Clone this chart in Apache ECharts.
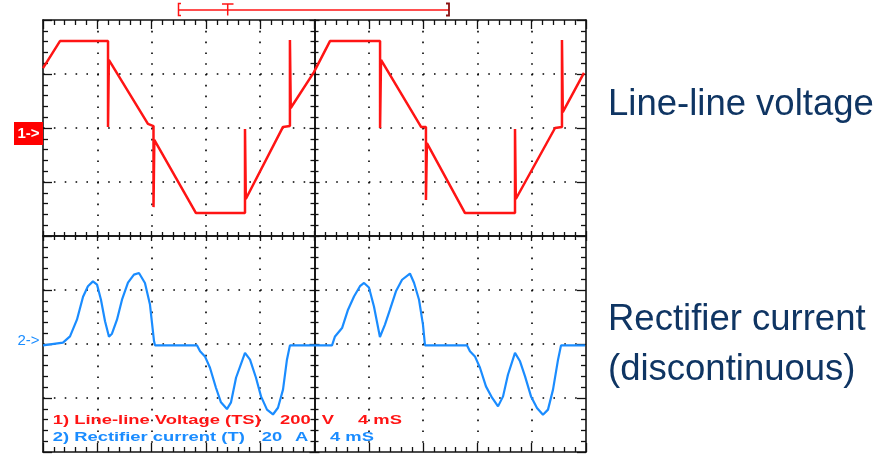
<!DOCTYPE html>
<html>
<head>
<meta charset="utf-8">
<script src="https://cdn.jsdelivr.net/npm/echarts@6/dist/echarts.min.js"></script>
<style>html,body{margin:0;padding:0;background:#fff}#c{width:892px;height:454px}</style>
</head>
<body>
<div id="c"></div>
<script>
// Channel 1: line-line voltage (ms, V) ; 200 V/div, 4 ms/div
var voltT = [0, 1.25, 4.79, 4.79, 4.85, 7.73, 8.14, 8.14, 8.20, 11.27, 14.88, 14.88, 14.94, 17.68, 18.19, 18.19, 18.25, 19.96, 21.14, 24.83, 24.83, 24.90, 27.85, 28.21, 28.21, 28.28, 31.09, 34.77, 34.77, 34.83, 37.72, 38.23, 38.23, 38.29, 39.85];
var voltV = [222, 322, 322, 4, 252, 15, 7, -293, -44, -315, -315, -4, -263, 4, 7, 326, 74, 207, 322, 322, 0, 252, 4, 4, -267, -56, -315, -315, -4, -263, 0, 4, 326, 59, 204];
// Channel 2: rectifier current (ms, A) ; 20 A/div
var currT = [0, 1.47, 1.99, 2.50, 2.95, 3.31, 3.68, 3.98, 4.27, 4.57, 4.86, 5.08, 5.45, 5.82, 6.26, 6.70, 7.07, 7.51, 7.88, 8.18, 8.25,
  11.34, 11.57, 11.93, 12.30, 12.74, 13.11, 13.55, 13.85, 14.22, 14.88, 15.25, 15.69, 16.06, 16.50, 16.94, 17.31, 17.68, 17.97, 18.19,
  21.29, 21.51, 22.03, 22.47, 22.91, 23.35, 23.65, 24.01, 24.38, 24.82, 25.19, 25.56, 26.00, 26.45, 27.03, 27.33, 27.70, 27.99, 28.14,
  31.23, 31.45, 31.82, 32.19, 32.63, 33.08, 33.52, 33.89, 34.25, 34.77, 35.14, 35.51, 35.95, 36.39, 36.83, 37.20, 37.57, 37.94, 38.16, 39.93];
var currI = [0, 1.0, 3.3, 9.5, 18.0, 21.9, 23.7, 22.5, 16.9, 8.9, 3.2, 4.3, 9.5, 16.9, 23.2, 26.2, 26.8, 23.1, 15.1, 1.5, 0,
  0, -2.2, -4.1, -8.3, -15.7, -21.1, -23.6, -21.1, -12.0, -2.8, -5.3, -12.0, -18.9, -23.8, -25.6, -23.1, -16.4, -5.3, 0,
  0, 3.3, 6.4, 13.2, 18.1, 21.9, 23.1, 21.4, 14.4, 3.1, 7.7, 13.2, 20.0, 24.3, 26.6, 23.2, 16.9, 7.7, 0,
  0, -2.2, -4.1, -8.3, -15.2, -19.4, -22.6, -18.9, -10.9, -2.8, -5.9, -11.5, -18.9, -23.2, -25.7, -23.8, -16.4, -5.3, 0, 0];
// Screen scale: 10 x 8 divisions
var timeRange = [0, 40];
var voltRange = [-1200, 400];
var currRange = [-39.5, 120.5];
var divX = [-5, 5];
var divY = [-4, 4];
var labelRed = ['1) Line-line Voltage (TS)', '200', 'V', '4 mS'];
var labelBlue = ['2) Rectifier current (T)', '20', 'A', '4 mS'];
var sideTitles = ['Line-line voltage', 'Rectifier current', '(discontinuous)'];

function zip(a, b) { var r = []; for (var i = 0; i < a.length; i++) r.push([a[i], b[i]]); return r; }

var BLACK = '#111';
function borderAxis(pos, min, max, split, dash) {
  return {
    type: 'value', min: min, max: max, interval: 1, position: pos,
    axisLine: { show: true, onZero: false, lineStyle: { color: BLACK, width: 1.6 } },
    axisTick: { show: true, inside: true, length: 9, lineStyle: { color: BLACK, width: 1.3 } },
    minorTick: { show: true, splitNumber: 5, length: 5, lineStyle: { color: BLACK, width: 1.3 } },
    axisLabel: { show: false },
    splitLine: { show: split, showMinLine: false, showMaxLine: false, lineStyle: { color: '#000', width: 1.6, type: dash, dashOffset: 0 } }
  };
}
function centerAxis(pos, min, max, inside, zeroIdx) {
  return {
    type: 'value', min: min, max: max, interval: 1, position: pos,
    axisLine: { show: true, onZero: true, onZeroAxisIndex: zeroIdx, lineStyle: { color: BLACK, width: 1.6 } },
    axisTick: { show: true, inside: inside, length: 5, lineStyle: { color: BLACK, width: 1.3 } },
    minorTick: { show: true, splitNumber: 5, length: 4, lineStyle: { color: BLACK, width: 1.3 } },
    axisLabel: { show: false },
    splitLine: { show: false }
  };
}

var chart = echarts.init(document.getElementById('c'), null, { renderer: 'canvas' });
var bold = 'bold 12.6px "Liberation Sans", Arial, sans-serif';
function scopeText(txt, x, y, color) {
  return { type: 'text', x: x, y: y, scaleX: 1.46, z: 100,
    style: { text: txt, font: bold, fill: color, verticalAlign: 'middle', align: 'left' } };
}
var RED = '#ff1414', BLUE = '#1a8cff', NAVY = '#0f3563';
var xRed = [52.7, 280, 321.7, 358], xBlue = [52.7, 261.7, 295, 330];
var graphics = [];
for (var i = 0; i < labelRed.length; i++) graphics.push(scopeText(labelRed[i], xRed[i], 420.6, RED));
for (var j = 0; j < labelBlue.length; j++) graphics.push(scopeText(labelBlue[j], xBlue[j], 437.3, BLUE));
graphics.push(
  { type: 'rect', shape: { x: 14, y: 122, width: 29, height: 23 }, style: { fill: '#ff0000' }, z: 100 },
  { type: 'text', x: 28.5, y: 133.8, z: 101, style: { text: '1->', font: 'bold 15px "Liberation Sans", Arial, sans-serif', fill: '#fff', align: 'center', verticalAlign: 'middle' } },
  { type: 'text', x: 28.5, y: 341, z: 101, style: { text: '2->', font: '15px "Liberation Sans", Arial, sans-serif', fill: BLUE, align: 'center', verticalAlign: 'middle' } },
  { type: 'polyline', shape: { points: [[181, 3.5], [178.5, 3.5], [178.5, 15.5], [181, 15.5]] }, style: { stroke: RED, lineWidth: 1.5, fill: null } },
  { type: 'line', shape: { x1: 178.5, y1: 10, x2: 449, y2: 10 }, style: { stroke: RED, lineWidth: 1.5 } },
  { type: 'line', shape: { x1: 222, y1: 4, x2: 233.5, y2: 4 }, style: { stroke: RED, lineWidth: 1.5 } },
  { type: 'line', shape: { x1: 227.7, y1: 4, x2: 227.7, y2: 15.5 }, style: { stroke: RED, lineWidth: 1.5 } },
  { type: 'polyline', shape: { points: [[446, 3.5], [449, 3.5], [449, 15.5], [446, 15.5]] }, style: { stroke: '#8a1010', lineWidth: 1.8, fill: null } },
  { type: 'text', x: 608, y: 105.2, style: { text: sideTitles[0], font: '36.5px "Liberation Sans", Arial, sans-serif', fill: NAVY, verticalAlign: 'middle' } },
  { type: 'text', x: 608, y: 319.6, style: { text: sideTitles[1], font: '36.5px "Liberation Sans", Arial, sans-serif', fill: NAVY, verticalAlign: 'middle' } },
  { type: 'text', x: 608, y: 369.6, style: { text: sideTitles[2], font: '36.5px "Liberation Sans", Arial, sans-serif', fill: NAVY, verticalAlign: 'middle' } }
);

chart.setOption({
  animation: false,
  backgroundColor: '#fff',
  grid: { left: 43, top: 20, width: 543, height: 432, containLabel: false },
  xAxis: [
    { type: 'value', min: timeRange[0], max: timeRange[1], show: false },
    borderAxis('bottom', divX[0], divX[1], true, [1.6, 9.2]),
    borderAxis('top', divX[0], divX[1], false, 'solid'),
    centerAxis('bottom', divX[0], divX[1], true, 2),
    centerAxis('bottom', divX[0], divX[1], false, 2)
  ],
  yAxis: [
    { type: 'value', min: voltRange[0], max: voltRange[1], show: false },
    { type: 'value', min: currRange[0], max: currRange[1], show: false },
    borderAxis('left', divY[0], divY[1], true, [1.6, 9.26]),
    borderAxis('right', divY[0], divY[1], false, 'solid'),
    centerAxis('left', divY[0], divY[1], true, 1),
    centerAxis('left', divY[0], divY[1], false, 1)
  ],
  graphic: graphics,
  series: [
    { type: 'line', name: 'Rectifier current', xAxisIndex: 0, yAxisIndex: 1, data: zip(currT, currI), showSymbol: false, z: 5,
      lineStyle: { color: BLUE, width: 2.2 } },
    { type: 'line', name: 'Line-line voltage', xAxisIndex: 0, yAxisIndex: 0, data: zip(voltT, voltV), showSymbol: false, z: 6,
      lineStyle: { color: RED, width: 2.5 } }
  ]
});
</script>
</body>
</html>
